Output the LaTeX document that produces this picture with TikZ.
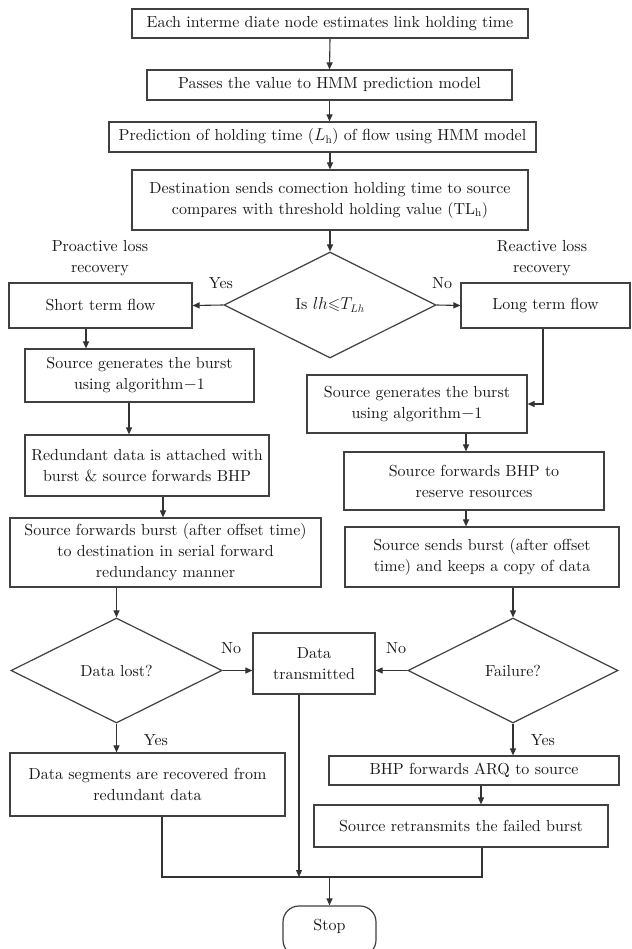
\documentclass[tikz,border=0pt]{standalone}
\usepackage{amssymb}
\usepackage{fontspec}
\setmainfont{lmroman10-regular.otf}[ItalicFont=lmroman10-italic.otf, BoldFont=lmroman10-bold.otf]
\usetikzlibrary{arrows.meta,shapes.geometric}
\begin{document}
\begin{tikzpicture}[x=1pt,y=-1pt,
  every node/.style={font=\fontsize{16}{21}\selectfont, text=black!90},
  box/.style={draw=black!75, line width=1.2pt, rectangle, align=center, inner sep=0pt},
  dec/.style={draw=black!75, line width=1.2pt, diamond, inner sep=0pt, align=center},
  lbl/.style={inner sep=0pt, align=center},
  conn/.style={draw=black!80, line width=1.1pt},
  arr/.style={conn, -{Triangle[length=7pt,width=6pt]}}
]
\useasboundingbox (0,0) rectangle (631,949);
\fill[white] (0,0) rectangle (631,949);

\node[box, minimum width=396, minimum height=29] (b1) at (330,23.5) {Each interme diate node estimates link holding time};
\node[box, minimum width=365, minimum height=30] (b2) at (329.5,85) {Passes the value to HMM prediction model};
\node[box, minimum width=427, minimum height=30] (b3) at (322.5,137) {Prediction of holding time ($L_\mathrm{h}$) of flow using HMM model};
\node[box, minimum width=396, minimum height=60] (b4) at (330,200) {Destination sends comection holding time to source\\compares with threshold holding value (TL$_\mathrm{h}$)};
\node[dec, minimum width=212, minimum height=106] (dia) at (330,305) {Is $lh{\leqslant}T_{Lh}$};
\node[box, minimum width=183, minimum height=45] (short) at (100.5,305.5) {Short term flow};
\node[box, minimum width=169, minimum height=45] (long) at (545.5,305.5) {Long term flow};
\node[box, minimum width=229, minimum height=53] (srcL) at (139.5,375.5) {Source generates the burst\\using algorithm$-$1};
\node[box, minimum width=244, minimum height=61] (red) at (147,465.5) {Redundant data is attached with\\burst \& source forwards BHP};
\node[box, minimum width=311, minimum height=69] (fwd) at (165.5,552.5) {Source forwards burst (after offset time)\\to destination in serial forward\\redundancy manner};
\node[box, minimum width=220, minimum height=58] (srcR) at (417,404) {Source generates the burst\\using algorithm$-$1};
\node[box, minimum width=260, minimum height=58] (bhpres) at (474,481) {Source forwards BHP to\\reserve resources};
\node[box, minimum width=274, minimum height=60] (send) at (482,557) {Source sends burst (after offset\\time) and keeps a copy of data};
\node[dec, minimum width=211, minimum height=105] (lost) at (116.5,670.5) {Data lost?};
\node[box, minimum width=122, minimum height=61] (tx) at (314,663.5) {Data\\transmitted};
\node[dec, minimum width=210, minimum height=105] (fail) at (513,670.5) {Failure?};
\node[box, minimum width=275, minimum height=63] (seg) at (147.5,784.5) {Data segments are recovered from\\redundant data};
\node[box, minimum width=290, minimum height=29] (arq) at (474,770.5) {BHP forwards ARQ to source};
\node[box, minimum width=294, minimum height=42] (retx) at (461,826) {Source retransmits the failed burst};
\node[box, rounded corners=16pt, minimum width=93, minimum height=50] (stop) at (329.5,931) {};
\node[lbl] (stoptxt) at (329.5,926) {Stop};

\node[lbl] (pro) at (100,258) {Proactive loss\\recovery};
\node[lbl] (rea) at (542,258) {Reactive loss\\recovery};
\node[lbl] (yes1) at (221,283) {Yes};
\node[lbl] (no1) at (442,283) {No};
\node[lbl] (no2) at (231,648) {No};
\node[lbl] (no3) at (396,648) {No};
\node[lbl] (yes2) at (156,740) {Yes};
\node[lbl] (yes3) at (543,740) {Yes};

\coordinate (jl) at (162,877);
\coordinate (jm) at (299,877);
\coordinate (jr) at (482,877);

\draw[arr] (b1.south) -- (b2.north);
\draw[arr] (b2.south) -- (b2.south |- b3.north);
\draw[arr] (b4.north |- b3.south) -- (b4.north);
\draw[arr] (b4.south) -- (dia.north);
\draw[arr] (dia.west) -- (short.east);
\draw[arr] (dia.east) -- (long.west);
\draw[arr] ([xshift=-14.5]short.south) -- ([xshift=-14.5]short.south |- srcL.north);
\draw[arr] ([xshift=-10.5]srcL.south) -- ([xshift=-10.5]srcL.south |- red.north);
\draw[arr] ([xshift=16]red.south) -- ([xshift=16]red.south |- fwd.north);
\draw[arr] (lost.north |- fwd.south) -- (lost.north);
\draw[arr] ([xshift=-2.5]long.south) |- (srcR.east);
\draw[arr] ([xshift=49]srcR.south) -- ([xshift=49]srcR.south |- bhpres.north);
\draw[arr] ([xshift=-8]bhpres.south) -- ([xshift=-8]bhpres.south |- send.north);
\draw[arr] (fail.north |- send.south) -- (fail.north);
\draw[arr] (lost.east) -- (lost.east -| tx.west);
\draw[arr] (fail.west) -- (fail.west -| tx.east);
\draw[arr] (lost.south) -- (lost.south |- seg.north);
\draw[arr] (fail.south) -- (fail.south |- arq.north);
\draw[arr] ([xshift=7]arq.south) -- ([xshift=7]arq.south |- retx.north);
\draw[conn] (seg.south -| jl) -- (jl) -- (jr) -- (retx.south -| jr);
\draw[arr] (tx.south -| jm) -- (jm);
\draw[arr] (stop.north |- jl) -- (stop.north);
\end{tikzpicture}
\end{document}
